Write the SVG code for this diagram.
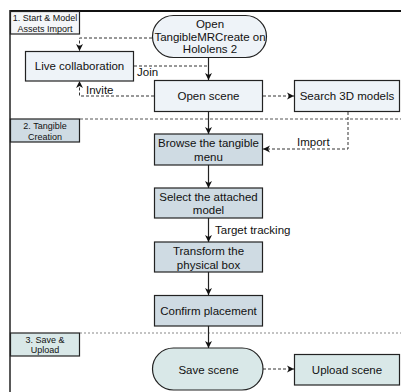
<svg xmlns="http://www.w3.org/2000/svg" width="401" height="392" viewBox="0 0 401 392">
<defs>
<style>
text{font-family:"Liberation Sans",Arial,sans-serif;fill:#111;}
.n{font-size:11.5px;text-anchor:middle;}
.lb{font-size:9px;text-anchor:middle;}
.el{font-size:11.5px;}
.box{stroke:#222;stroke-width:1.2;}
.light{fill:#eef3f8;}
.blue{fill:#cfdbe3;}
.teal{fill:#d9e8e8;}
.solid{fill:none;stroke:#222;stroke-width:1.2;}
.dash{fill:none;stroke:#333;stroke-width:1;stroke-dasharray:3,2;}
.sep{fill:none;stroke:#555;stroke-width:1;stroke-dasharray:3,2;}
.sep2{fill:none;stroke:#888;stroke-width:1.2;stroke-dasharray:2,2;}
</style>
<marker id="ah" markerWidth="8" markerHeight="8" refX="7" refY="4" orient="auto" markerUnits="userSpaceOnUse">
<path d="M0,0.5 L7,4 L0,7.5 L2,4 Z" fill="#111"/>
</marker>
</defs>
<rect width="401" height="392" fill="#fff"/>
<g id="frame">
<line x1="10" y1="11" x2="401" y2="11" stroke="#111" stroke-width="2"/>
<line x1="10" y1="10" x2="10" y2="392" stroke="#222" stroke-width="1.5"/>
<line class="sep" x1="80" y1="119" x2="401" y2="119"/>
<line class="sep2" x1="80" y1="333" x2="401" y2="333"/>
</g>
<g id="lane1"><rect class="box" x="10.5" y="11.5" width="69" height="22.5" fill="#f4f6f8"/><text class="lb" x="45" y="21">1. Start &amp; Model</text><text class="lb" x="45" y="31.5">Assets Import</text></g>
<g id="lane2"><rect class="box blue" x="10.5" y="119" width="69" height="23"/><text class="lb" x="45" y="129">2. Tangible</text><text class="lb" x="45" y="139.5">Creation</text></g>
<g id="lane3"><rect class="box teal" x="10.5" y="333" width="69" height="23"/><text class="lb" x="45" y="342.5">3. Save &amp;</text><text class="lb" x="45" y="353">Upload</text></g>
<g id="connectors">
<line class="solid" x1="208.5" y1="57" x2="208.5" y2="80" marker-end="url(#ah)"/>
<polyline class="dash" points="152,38 79.5,38 79.5,51" marker-end="url(#ah)"/>
<polyline class="dash" points="134,66 208.5,66"/>
<polyline class="dash" points="154,96 79.5,96 79.5,81" marker-end="url(#ah)"/>
<line class="dash" x1="263" y1="96" x2="294" y2="96" marker-end="url(#ah)"/>
<polyline class="dash" points="348,112 348,149 263,149" marker-end="url(#ah)"/>
<line class="solid" x1="208.5" y1="112" x2="208.5" y2="134" marker-end="url(#ah)"/>
<line class="solid" x1="208.5" y1="165" x2="208.5" y2="188" marker-end="url(#ah)"/>
<line class="solid" x1="208.5" y1="218" x2="208.5" y2="242" marker-end="url(#ah)"/>
<line class="solid" x1="208.5" y1="272" x2="208.5" y2="295" marker-end="url(#ah)"/>
<line class="solid" x1="208.5" y1="326" x2="208.5" y2="348" marker-end="url(#ah)"/>
<line class="dash" x1="263" y1="369" x2="294" y2="369" marker-end="url(#ah)"/>
<text class="el" x="137" y="76">Join</text>
<text class="el" x="86" y="94">Invite</text>
<text class="el" x="297" y="146">Import</text>
<text class="el" x="215" y="234">Target tracking</text>
</g>
<g id="start"><rect class="box light" x="152.5" y="15.5" width="114" height="42" rx="21" ry="21"/><text class="n" x="210" y="28">Open</text><text class="n" x="210" y="40.5">TangibleMRCreate on</text><text class="n" x="210" y="53">Hololens 2</text></g>
<g id="live"><rect class="box light" x="25.5" y="51.5" width="108" height="29.5"/><text class="n" x="79.5" y="70">Live collaboration</text></g>
<g id="open"><rect class="box light" x="154.5" y="80.5" width="108" height="31"/><text class="n" x="208.5" y="100">Open scene</text></g>
<g id="search"><rect class="box light" x="294.5" y="80.5" width="105" height="31"/><text class="n" x="347" y="100">Search 3D models</text></g>
<g id="browse"><rect class="box blue" x="154.5" y="134" width="108" height="31"/><text class="n" x="208.5" y="147">Browse the tangible</text><text class="n" x="208.5" y="161">menu</text></g>
<g id="select"><rect class="box blue" x="154.5" y="188" width="108" height="30"/><text class="n" x="208.5" y="201">Select the attached</text><text class="n" x="208.5" y="214">model</text></g>
<g id="transform"><rect class="box blue" x="154.5" y="242" width="108" height="30"/><text class="n" x="208.5" y="254.5">Transform the</text><text class="n" x="208.5" y="268.5">physical box</text></g>
<g id="confirm"><rect class="box blue" x="154.5" y="295.5" width="108" height="30.5"/><text class="n" x="208.5" y="315">Confirm placement</text></g>
<g id="save"><rect class="box teal" x="152.5" y="348" width="110.5" height="42" rx="21" ry="21"/><text class="n" x="208.5" y="374">Save scene</text></g>
<g id="upload"><rect class="box teal" x="294.5" y="354.5" width="105" height="30.5"/><text class="n" x="347" y="374">Upload scene</text></g>
</svg>
